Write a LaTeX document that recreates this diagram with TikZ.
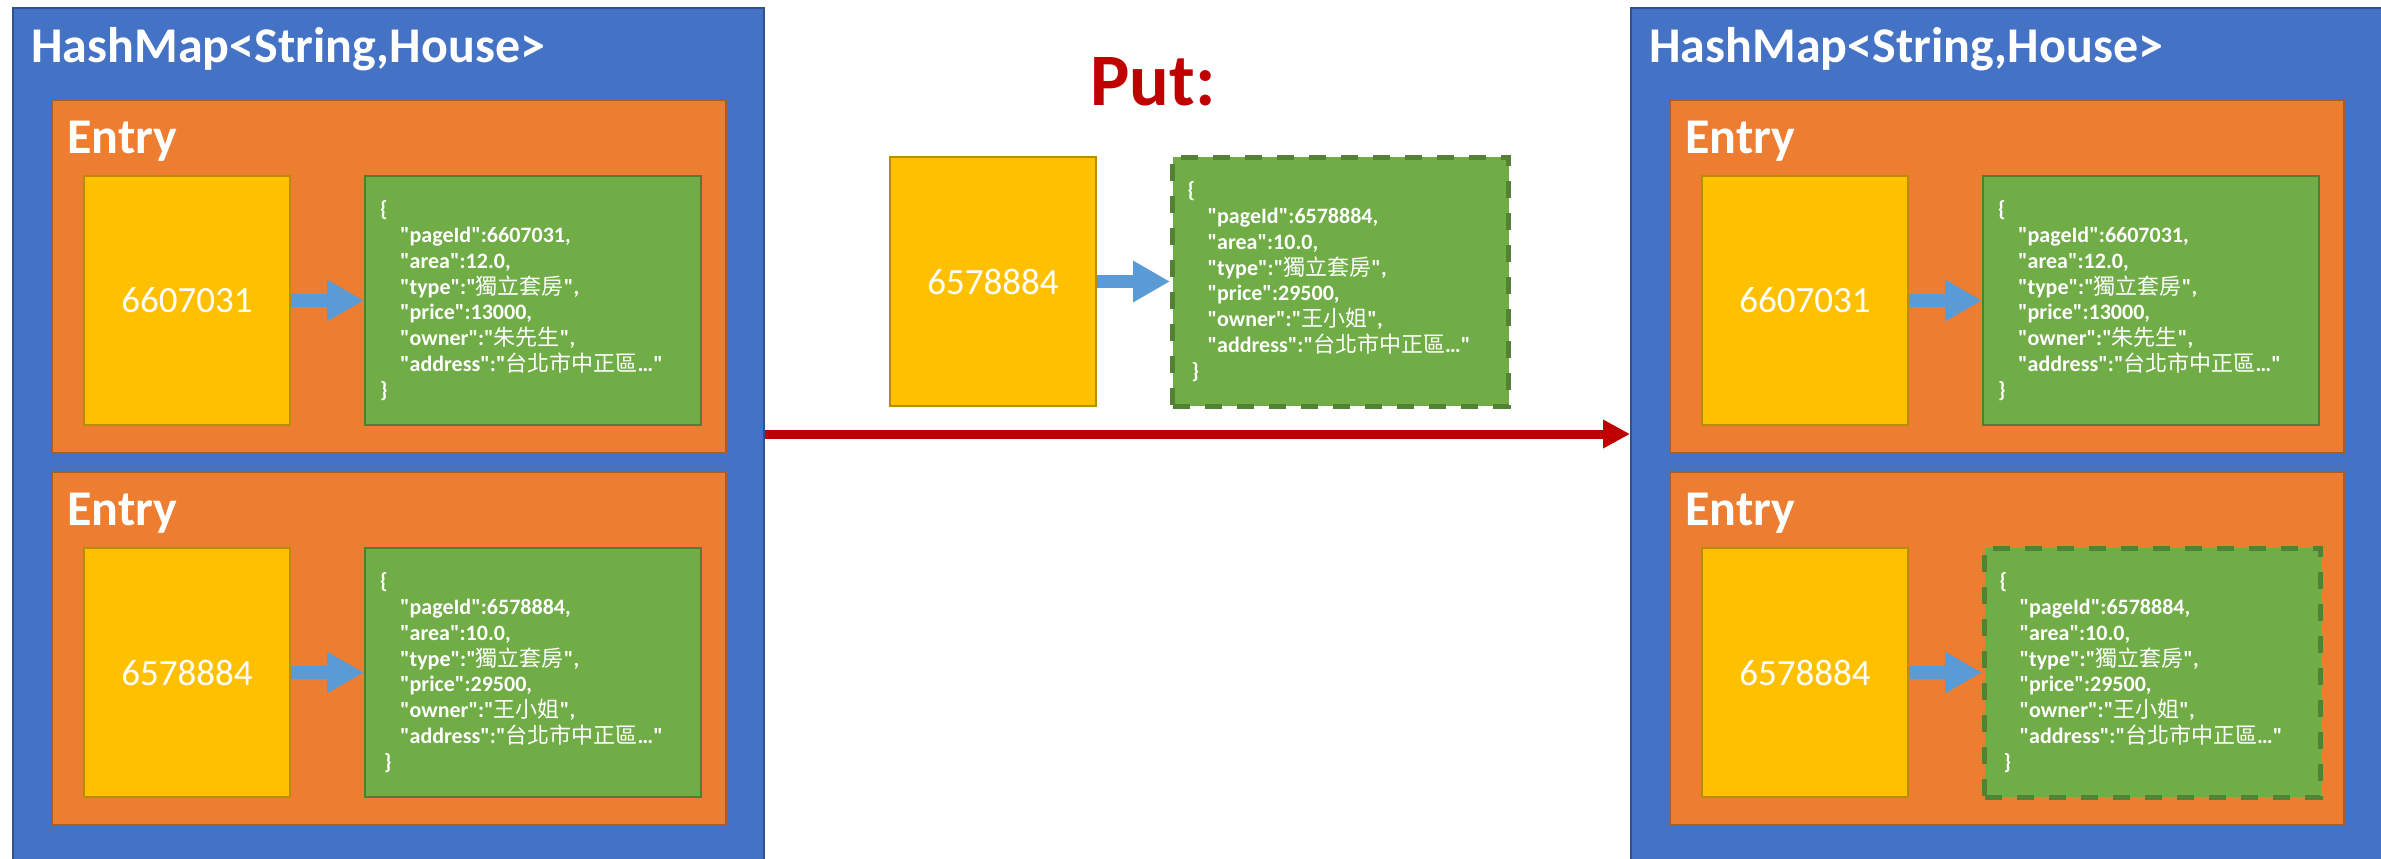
\documentclass[tikz,border=0pt]{standalone}
\usepackage{fontspec}
\usepackage{tikz}
\setmainfont{Carlito}[Ligatures=TeXOff]
\newfontfamily\cjk{Noto Sans CJK TC}
\newcommand{\zh}[1]{{\cjk\mdseries #1}}
\usetikzlibrary{arrows.meta,positioning}

\definecolor{mapblue}{HTML}{4472C4}
\definecolor{mapline}{HTML}{2F528F}
\definecolor{entryorange}{HTML}{ED7D31}
\definecolor{entryline}{HTML}{AE5A21}
\definecolor{keygold}{HTML}{FFC000}
\definecolor{keyline}{HTML}{BC8C00}
\definecolor{housegreen}{HTML}{70AD47}
\definecolor{houseline}{HTML}{507E32}
\definecolor{newline}{HTML}{548235}
\definecolor{arrowblue}{HTML}{5B9BD5}
\definecolor{putred}{HTML}{C00000}

\begin{document}
\begin{tikzpicture}[x=0.5pt,y=-0.5pt]
\tikzstyle{hashmap}=[rectangle, draw=mapline, line width=1pt, fill=mapblue, minimum width=375.5pt, minimum height=426pt, inner sep=0pt]
\tikzstyle{entry}=[rectangle, draw=entryline, line width=1pt, fill=entryorange, minimum width=337pt, minimum height=176.5pt, inner sep=0pt]
\tikzstyle{key}=[rectangle, draw=keyline, line width=1pt, fill=keygold, minimum width=103pt, minimum height=124.5pt, inner sep=0pt, text=white, font=\fontsize{18.5}{22}\selectfont]
\tikzstyle{house}=[rectangle, draw=houseline, line width=1pt, fill=housegreen, minimum height=124.5pt, text width=153pt, inner xsep=7.5pt, align=left, text=white, font={\fontsize{11}{12.9}\selectfont\bfseries\lineskiplimit=-20pt}]
\tikzstyle{newhouse}=[house, draw=newline, line width=2.5pt, dash pattern=on 8.5pt off 7.5pt]
\tikzstyle{title}=[inner sep=0pt, text=white, font=\fontsize{25}{30}\selectfont\bfseries]
\tikzstyle{keyarrow}=[draw=arrowblue, line width=6.5pt, -{Triangle[length=18.5pt,width=19.5pt]}]
\tikzstyle{putarrow}=[draw=putred, line width=4.5pt, -{Triangle[length=13.5pt,width=13.5pt]}]
\useasboundingbox (0,0) rectangle (2381,858);

% HashMap before
\node[hashmap, anchor=north west] (mapL) at (12,7) {};
\node[title, below right=27.5pt and 9.5pt of mapL.north west, anchor=base west] (titleL) {HashMap<String,House>};

\node[entry, below right=46pt and 19.5pt of mapL.north west] (entryLa) {};
\node[title, below right=27pt and 8pt of entryLa.north west, anchor=base west] (nameLa) {Entry};
\node[key, below right=38pt and 16pt of entryLa.north west] (keyLa) {6607031};
\node[house, right=36.5pt of keyLa] (valLa) {\{\\
\hspace*{10pt}"pageId":6607031,\\
\hspace*{10pt}"area":12.0,\\
\hspace*{10pt}"type":"\zh{獨立套房}",\\
\hspace*{10pt}"price":13000,\\
\hspace*{10pt}"owner":"\zh{朱先生}",\\
\hspace*{10pt}"address":"\zh{台北市中正區}…"\\
\}};
\draw[keyarrow] (keyLa) -- (valLa);

\node[entry, below right=232pt and 19.5pt of mapL.north west] (entryLb) {};
\node[title, below right=27pt and 8pt of entryLb.north west, anchor=base west] (nameLb) {Entry};
\node[key, below right=38pt and 16pt of entryLb.north west] (keyLb) {6578884};
\node[house, right=36.5pt of keyLb] (valLb) {\{\\
\hspace*{10pt}"pageId":6578884,\\
\hspace*{10pt}"area":10.0,\\
\hspace*{10pt}"type":"\zh{獨立套房}",\\
\hspace*{10pt}"price":29500,\\
\hspace*{10pt}"owner":"\zh{王小姐}",\\
\hspace*{10pt}"address":"\zh{台北市中正區}…"\\
\hspace*{2pt}\}};
\draw[keyarrow] (keyLb) -- (valLb);

% put
\node[title, anchor=base, text=putred, font=\fontsize{37}{42}\selectfont\bfseries] (put) at (1153,105) {Put:};
\node[key, anchor=north west] (keyM) at (889,156) {6578884};
\node[newhouse, right=36.5pt of keyM] (valM) {\{\\
\hspace*{10pt}"pageId":6578884,\\
\hspace*{10pt}"area":10.0,\\
\hspace*{10pt}"type":"\zh{獨立套房}",\\
\hspace*{10pt}"price":29500,\\
\hspace*{10pt}"owner":"\zh{王小姐}",\\
\hspace*{10pt}"address":"\zh{台北市中正區}…"\\
\hspace*{2pt}\}};
\draw[keyarrow] (keyM) -- (valM);

% HashMap after
\node[hashmap, anchor=north west] (mapR) at (1630,7) {};
\node[title, below right=27.5pt and 9.5pt of mapR.north west, anchor=base west] (titleR) {HashMap<String,House>};

\node[entry, below right=46pt and 19.5pt of mapR.north west] (entryRa) {};
\node[title, below right=27pt and 8pt of entryRa.north west, anchor=base west] (nameRa) {Entry};
\node[key, below right=38pt and 16pt of entryRa.north west] (keyRa) {6607031};
\node[house, right=36.5pt of keyRa] (valRa) {\{\\
\hspace*{10pt}"pageId":6607031,\\
\hspace*{10pt}"area":12.0,\\
\hspace*{10pt}"type":"\zh{獨立套房}",\\
\hspace*{10pt}"price":13000,\\
\hspace*{10pt}"owner":"\zh{朱先生}",\\
\hspace*{10pt}"address":"\zh{台北市中正區}…"\\
\}};
\draw[keyarrow] (keyRa) -- (valRa);

\node[entry, below right=232pt and 19.5pt of mapR.north west] (entryRb) {};
\node[title, below right=27pt and 8pt of entryRb.north west, anchor=base west] (nameRb) {Entry};
\node[key, below right=38pt and 16pt of entryRb.north west] (keyRb) {6578884};
\node[newhouse, right=36.5pt of keyRb] (valRb) {\{\\
\hspace*{10pt}"pageId":6578884,\\
\hspace*{10pt}"area":10.0,\\
\hspace*{10pt}"type":"\zh{獨立套房}",\\
\hspace*{10pt}"price":29500,\\
\hspace*{10pt}"owner":"\zh{王小姐}",\\
\hspace*{10pt}"address":"\zh{台北市中正區}…"\\
\hspace*{2pt}\}};
\draw[keyarrow] (keyRb) -- (valRb);

\draw[putarrow] (mapL) -- (mapR);
\end{tikzpicture}
\end{document}
